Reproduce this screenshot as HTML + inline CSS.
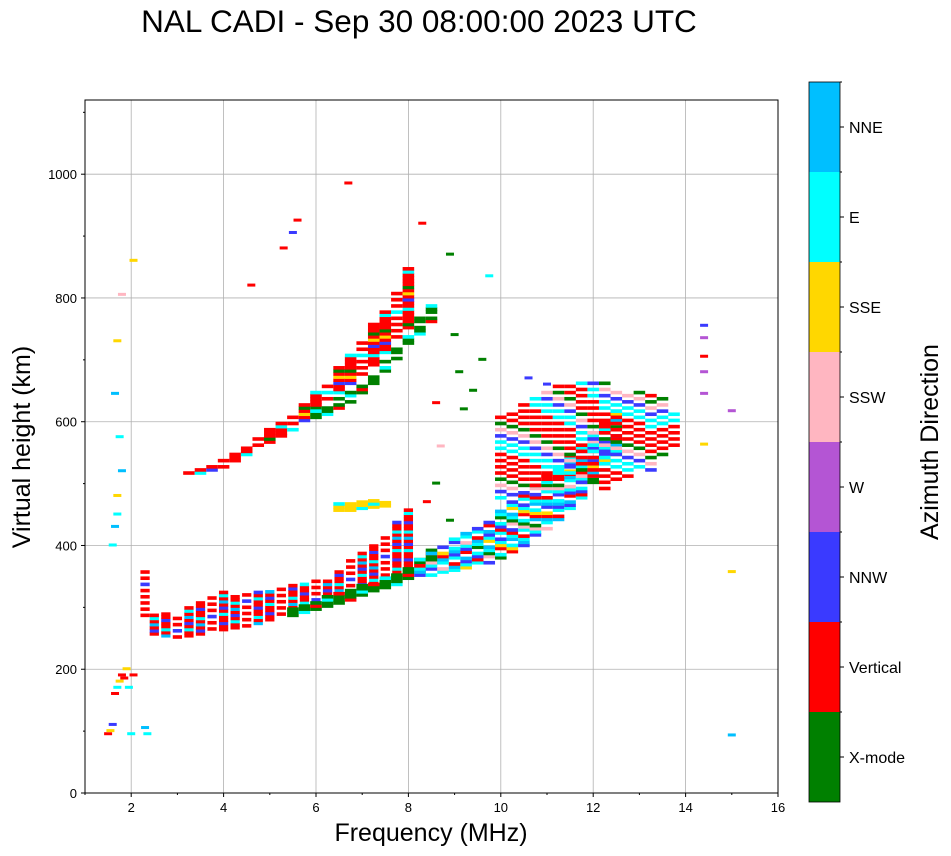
<!DOCTYPE html>
<html><head><meta charset="utf-8"><style>
body{margin:0;background:#fff;font-family:"Liberation Sans",sans-serif}
svg{display:block}
</style></head><body>
<svg id="chart" width="951" height="856" xmlns="http://www.w3.org/2000/svg" font-family="Liberation Sans, sans-serif">
<text x="419" y="32" font-size="31.5" text-anchor="middle">NAL CADI - Sep 30 08:00:00 2023 UTC</text>
<g id="grid"></g>
<g id="marks"></g>
<rect x="85" y="100" width="693" height="693" fill="none" stroke="#000" stroke-width="1"/>
<g id="axes"></g>
<text x="431" y="841" font-size="25" text-anchor="middle">Frequency (MHz)</text>
<text transform="translate(30,447) rotate(-90)" font-size="25" text-anchor="middle">Virtual height (km)</text>
<g id="cbar"></g>
<text transform="translate(938,442) rotate(-90)" font-size="25" text-anchor="middle">Azimuth Direction</text>
</svg>
<script>
const modeNames=["X-mode","Vertical","NNW","W","SSW","SSE","E","NNE"];
const modeColors=["#008000","#ff0000","#3a3aff","#b455d4","#ffb6c1","#ffd700","#00ffff","#00bfff"];
const xTicks=[2,4,6,8,10,12,14,16];
const yTicks=[0,200,400,600,800,1000];
const traceAFreq=[2.3,2.5,2.75,3.0,3.25,3.5,3.75,4.0,4.25,4.5,4.75,5.0,5.25,5.5,5.75,6.0,6.25,6.5,6.75,7.0,7.25,7.5,7.75,8.0];
const traceALow=[280,255,252,250,252,255,258,262,265,268,272,278,282,288,295,300,305,310,318,325,332,340,350,365];
const traceAHigh=[360,290,290,290,300,310,320,325,320,320,325,325,330,335,340,345,345,360,380,390,400,420,440,460];
const traceAModes=[1,1,6,1,2,1,7,1,6,1,1,2];
const traceBFreq=[5.5,5.75,6.0,6.25,6.5,6.75,7.0,7.25,7.5,7.75,8.0,8.25,8.5];
const traceBLow=[285,290,295,300,305,310,318,325,330,335,345,355,370];
const traceBHigh=[300,305,310,318,322,328,335,340,350,355,365,380,395];
const traceBModes=[0,0,0,6,0,0,0,1];
const traceCFreq=[8.25,8.5,8.75,9.0,9.25,9.5,9.75,10.0,10.25,10.5,10.75,11.0,11.25,11.5,11.75,12.0,12.25,12.5];
const traceCLow=[345,350,355,358,362,365,370,378,388,398,410,425,440,458,475,495,520,545];
const traceCHigh=[380,390,400,410,420,430,440,455,470,485,500,515,530,545,560,580,600,620];
const traceCModes=[6,2,7,6,1,2,6,4,0,6,7,1,5];
const traceDFreq=[3.25,3.5,3.75,4.0,4.25,4.5,4.75,5.0,5.25,5.5,5.75,6.0,6.25,6.5,6.75,7.0,7.25,7.5,7.75,8.0];
const traceDLow=[510,515,520,525,535,545,555,565,575,585,600,615,630,645,660,675,690,710,730,750];
const traceDHigh=[520,525,530,540,550,560,575,590,600,615,630,650,665,690,710,730,760,780,810,850];
const traceDModes=[1,1,1,6,1,1,2,1,5,1,0,1];
const traceEFreq=[6.0,6.25,6.5,6.75,7.0,7.25,7.5,7.75,8.0,8.25,8.5];
const traceELow=[600,610,620,630,640,660,680,700,720,740,760];
const traceEHigh=[620,630,640,650,660,680,700,720,745,770,790];
const traceEModes=[0,0,0,6,0,0,1,0];
const traceFFreq=[10.0,10.25,10.5,10.75,11.0,11.25,11.5,11.75,12.0,12.25,12.5,12.75,13.0,13.25,13.5,13.75];
const traceFLow=[470,480,490,495,500,505,510,500,495,490,500,510,520,520,540,560];
const traceFHigh=[610,620,630,640,650,660,665,665,665,665,655,650,650,650,640,620];
const traceFModes=[1,6,1,2,1,4,1,0,6];
const traceGFreq=[6.5,6.75,7.0,7.25,7.5];
const traceGLow=[455,455,458,460,462];
const traceGHigh=[470,470,472,475,470];
const traceGModes=[5,5,6,5];
const scatterF=[1.5,1.55,1.6,1.65,1.7,1.75,1.8,1.85,1.9,1.95,2.0,2.05,2.3,2.35,1.6,1.65,1.7,1.7,1.75,1.8,1.65,1.7,2.05,1.8,8.9,8.9,9.2,9.4,9.0,9.6,9.1,8.6,8.7,14.4,14.4,14.4,14.4,14.4,15.0,15.0,15.0,14.4,6.7,5.6,5.5,5.3,4.6,8.3,9.75,10.6,11.0,8.4,8.6];
const scatterH=[95,100,110,160,170,180,190,185,200,170,95,190,105,95,400,430,450,480,575,520,645,730,860,805,870,440,620,650,740,700,680,630,560,755,735,705,680,645,617,357,93,563,985,925,905,880,820,920,835,670,660,470,500];
const scatterM=[1,5,2,1,6,5,1,1,5,6,6,1,7,6,6,7,6,5,6,7,7,5,5,4,0,0,0,0,0,0,0,1,4,2,3,1,3,3,3,5,7,5,1,1,2,1,1,1,6,2,2,1,0];
const NS="http://www.w3.org/2000/svg";
const X=f=>85+(f-1)*46.2, Y=h=>793-h*0.6188;
function mk(parent,tag,attrs){const e=document.createElementNS(NS,tag);for(const k in attrs)e.setAttribute(k,attrs[k]);parent.appendChild(e);return e;}
const grid=document.getElementById('grid'),axes=document.getElementById('axes'),marks=document.getElementById('marks'),cbar=document.getElementById('cbar');
xTicks.forEach(t=>{const x=X(t);
 const g=mk(grid,'line',{x1:x,x2:x,y1:100,y2:793,stroke:'#b0b0b0','stroke-width':0.8});
 
 mk(axes,'line',{x1:x,x2:x,y1:793,y2:797,stroke:'#000'});
 const l=mk(axes,'text',{x:x,y:812,'font-size':13,'text-anchor':'middle'});l.textContent=t;
 });
for(let t=1;t<=15;t+=2)mk(axes,'line',{x1:X(t),x2:X(t),y1:793,y2:795,stroke:'#000'});
yTicks.forEach(t=>{const y=Y(t);
 const g=mk(grid,'line',{x1:85,x2:778,y1:y,y2:y,stroke:'#b0b0b0','stroke-width':0.8});
 
 mk(axes,'line',{x1:81,x2:85,y1:y,y2:y,stroke:'#000'});
 const l=mk(axes,'text',{x:77,y:y+5,'font-size':13,'text-anchor':'end'});l.textContent=t;
 });
for(let t=100;t<=1100;t+=200)mk(axes,'line',{x1:83,x2:85,y1:Y(t),y2:Y(t),stroke:'#000'});
function drawTrace(name,fr,lo,hi,modes,skipMod){
 const step=fr.length>1?(fr[1]-fr[0]):0.25;
 fr.forEach((f,i)=>{let j=0;
  for(let h=lo[i];h<hi[i];h+=5,j++){
   if(skipMod&&(i*7+j*3)%skipMod===0)continue;
   const m=modes[(i*3+j)%modes.length];
   const r=mk(marks,'rect',{x:X(f)-step*23.1,y:Y(h+5),width:Math.max(step*46.2,3),height:3.6,fill:modeColors[m]});
   
  }});}
drawTrace('o-trace',traceAFreq,traceALow,traceAHigh,traceAModes,6);
drawTrace('x-trace',traceBFreq,traceBLow,traceBHigh,traceBModes,0);
drawTrace('high-freq-trace',traceCFreq,traceCLow,traceCHigh,traceCModes,5);
drawTrace('multi-hop-trace',traceDFreq,traceDLow,traceDHigh,traceDModes,6);
drawTrace('multi-hop-x-trace',traceEFreq,traceELow,traceEHigh,traceEModes,4);
drawTrace('spread-cluster',traceFFreq,traceFLow,traceFHigh,traceFModes,2);
drawTrace('sse-patch',traceGFreq,traceGLow,traceGHigh,traceGModes,0);
scatterF.forEach((f,i)=>{
 const r=mk(marks,'rect',{x:X(f)-4,y:Y(scatterH[i])-2,width:8,height:3,fill:modeColors[scatterM[i]]});
 });
const cbTop=82,cbH=720,seg=cbH/8;
modeNames.forEach((n,i)=>{const y0=cbTop+cbH-(i+1)*seg;
 const r=mk(cbar,'rect',{x:809,y:y0,width:31,height:seg,fill:modeColors[i]});
 
 mk(cbar,'line',{x1:840,x2:844,y1:y0+seg/2,y2:y0+seg/2,stroke:'#000'});
 mk(cbar,'line',{x1:840,x2:842,y1:y0,y2:y0,stroke:'#000'});
 const t=mk(cbar,'text',{x:849,y:y0+seg/2+6,'font-size':16});t.textContent=n;
 });
mk(cbar,'rect',{x:809,y:cbTop,width:31,height:cbH,fill:'none',stroke:'#000','stroke-width':0.8});
</script>
</body></html>
